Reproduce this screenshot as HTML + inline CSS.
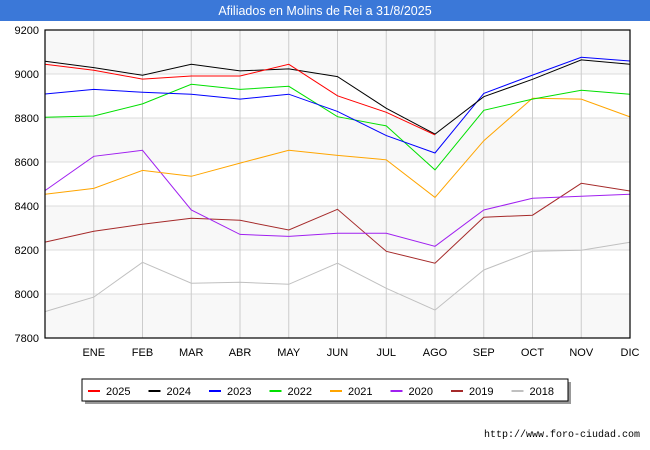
<!DOCTYPE html>
<html><head><meta charset="utf-8"><style>
body{margin:0;background:#fff;font-family:"Liberation Sans",sans-serif;}
svg{display:block}
</style></head><body>
<svg id="chart" width="650" height="450" xmlns="http://www.w3.org/2000/svg">
<rect x="0" y="0" width="650" height="21" fill="#3b78d8"/>
<text x="325" y="15" text-anchor="middle" fill="#fff" font-size="12.5">Afiliados en Molins de Rei a 31/8/2025</text>
<g id="plot"></g>
<text x="640" y="437" text-anchor="end" font-size="10" font-family="Liberation Mono, monospace" fill="#000">http://www.foro-ciudad.com</text>
</svg>
<script>
const months = ["", "ENE","FEB","MAR","ABR","MAY","JUN","JUL","AGO","SEP","OCT","NOV","DIC"];
const yTicks = [7800,8000,8200,8400,8600,8800,9000,9200];
const seriesNames = ["2025","2024","2023","2022","2021","2020","2019","2018"];
const seriesColors = ["#ff0000","#000000","#0000ff","#00e000","#ffa500","#a020f0","#a52a2a","#c0c0c0"];
const s2025 = [9044,9017,8977,8991,8991,9044,8901,8826,8723];
const s2024 = [9058,9029,8994,9044,9014,9023,8988,8844,8727,8897,8976,9064,9044];
const s2023 = [8909,8930,8917,8908,8886,8908,8830,8720,8641,8912,8995,9076,9059];
const s2022 = [8803,8809,8864,8953,8930,8944,8806,8764,8564,8835,8886,8926,8908];
const s2021 = [8453,8480,8562,8535,8595,8653,8630,8610,8439,8697,8890,8886,8805];
const s2020 = [8470,8626,8653,8382,8271,8262,8276,8276,8217,8382,8435,8444,8453];
const s2019 = [8236,8285,8317,8344,8335,8291,8385,8194,8140,8349,8358,8503,8468];
const s2018 = [7920,7986,8144,8049,8053,8044,8140,8026,7927,8109,8194,8199,8235];
const allSeries = [s2025,s2024,s2023,s2022,s2021,s2020,s2019,s2018];

const L=45,R=630,T=30,B=338,yMin=7800,yMax=9200;
const xs = i => L + i*(R-L)/(months.length-1);
const ys = v => B - (v-yMin)/(yMax-yMin)*(B-T);
const NS="http://www.w3.org/2000/svg";
const g=document.getElementById('plot');
function mk(tag,attrs,parent){const e=document.createElementNS(NS,tag);for(const k in attrs)e.setAttribute(k,attrs[k]);(parent||g).appendChild(e);return e;}
for(let i=0;i<yTicks.length-1;i++){
  if((yTicks.length-2-i)%2===0){
    const r=mk('rect',{x:L,y:ys(yTicks[i+1]),width:R-L,height:ys(yTicks[i])-ys(yTicks[i+1]),fill:'#f8f8f8'});
    
    
  }
}
yTicks.forEach(v=>{
  const l=mk('line',{x1:L,x2:R,y1:ys(v),y2:ys(v),stroke:'#dddddd','stroke-width':1});
  
  
  const t=mk('text',{x:L-6,y:ys(v)+4,'text-anchor':'end','font-size':11,fill:'#000'});
  t.textContent=v;
  
  
});
months.forEach((m,i)=>{
  if(i===0)return;
  const l=mk('line',{x1:xs(i),x2:xs(i),y1:T,y2:B,stroke:'#cccccc','stroke-width':1});
  
  
  const t=mk('text',{x:xs(i),y:356,'text-anchor':'middle','font-size':11,fill:'#000'});
  t.textContent=m;
  
  
});
for(let k=allSeries.length-1;k>=0;k--){
  const d=allSeries[k].map((v,i)=>(i?'L':'M')+xs(i).toFixed(1)+','+ys(v).toFixed(1)).join(' ');
  const p=mk('path',{d:d,fill:'none',stroke:seriesColors[k],'stroke-width':1});
  
  
}
const fr=mk('rect',{x:L,y:T,width:R-L,height:B-T,fill:'none',stroke:'#000','stroke-width':1.2});


const lg=mk('g',{});


mk('rect',{x:85,y:382,width:486,height:22,fill:'#999'},lg);
mk('rect',{x:82,y:379,width:486,height:22,fill:'#fff',stroke:'#000','stroke-width':1},lg);
seriesNames.forEach((n,k)=>{
  const x0=88+k*60.5;
  const e=mk('g',{},lg);
  
  
  mk('line',{x1:x0,x2:x0+12,y1:391,y2:391,stroke:seriesColors[k],'stroke-width':2},e);
  const t=mk('text',{x:x0+18,y:395,'font-size':11,fill:'#000'},e);
  t.textContent=n;
});
</script>
</body></html>
